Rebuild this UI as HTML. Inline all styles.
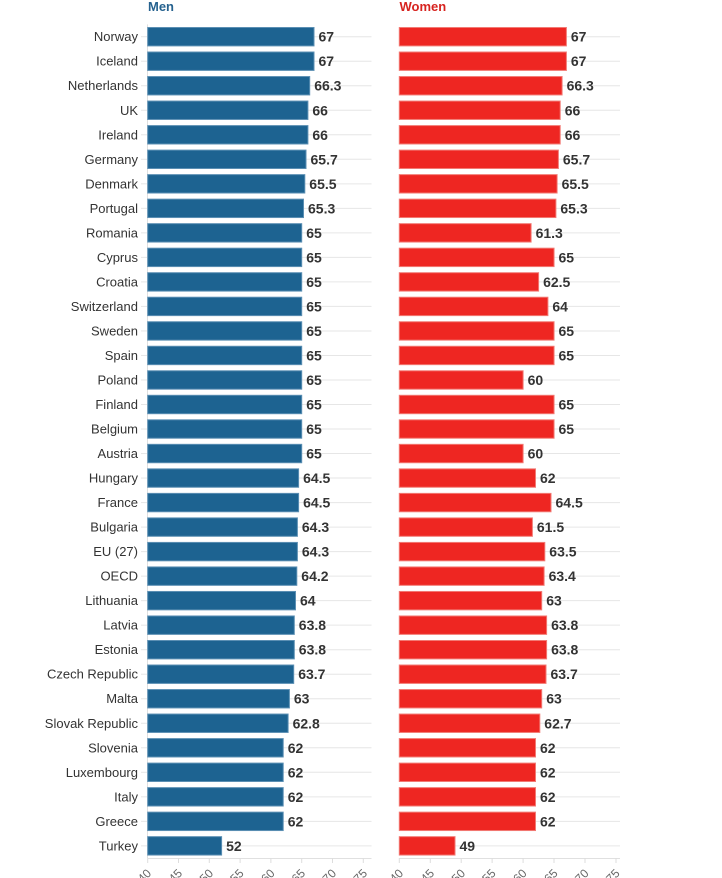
<!DOCTYPE html>
<html><head><meta charset="utf-8"><style>
html,body{margin:0;padding:0;background:#fff;}
svg{display:block;}
.lab{font-family:"Liberation Sans",sans-serif;font-size:13px;fill:#333;text-anchor:end;}
.val{font-family:"Liberation Sans",sans-serif;font-size:14px;font-weight:bold;fill:#333;}
.tk{font-family:"Liberation Sans",sans-serif;font-size:12px;fill:#666;text-anchor:end;}
.gm{stroke:#e6e6e6;stroke-width:1;}
.m{fill:#1d6391;stroke:#5b8fb3;stroke-width:1;}
.w{fill:#ee2622;stroke:#f27a74;stroke-width:1;}
</style></head><body>
<svg width="722" height="878" viewBox="0 0 722 878" xmlns="http://www.w3.org/2000/svg">
<text x="148" y="11" font-family="Liberation Sans, sans-serif" font-size="13" font-weight="bold" fill="#26628f">Men</text>
<text x="399.5" y="11" font-family="Liberation Sans, sans-serif" font-size="13" font-weight="bold" fill="#d7231f">Women</text>
<line x1="147.5" y1="24.4" x2="147.5" y2="858" stroke="#e0e0e0"/>
<line x1="147.7" y1="858.5" x2="371.5" y2="858.5" stroke="#e0e0e0"/>
<line x1="399.3" y1="858.5" x2="620" y2="858.5" stroke="#e0e0e0"/>
<g stroke="#ddd">
<line x1="147.7" y1="858" x2="147.7" y2="863"/><line x1="178.5" y1="858" x2="178.5" y2="863"/><line x1="209.3" y1="858" x2="209.3" y2="863"/><line x1="240.1" y1="858" x2="240.1" y2="863"/><line x1="270.9" y1="858" x2="270.9" y2="863"/><line x1="301.7" y1="858" x2="301.7" y2="863"/><line x1="332.5" y1="858" x2="332.5" y2="863"/><line x1="363.3" y1="858" x2="363.3" y2="863"/>
<line x1="399.3" y1="858" x2="399.3" y2="863"/><line x1="430.3" y1="858" x2="430.3" y2="863"/><line x1="461.2" y1="858" x2="461.2" y2="863"/><line x1="492.1" y1="858" x2="492.1" y2="863"/><line x1="523.1" y1="858" x2="523.1" y2="863"/><line x1="554" y1="858" x2="554" y2="863"/><line x1="585" y1="858" x2="585" y2="863"/><line x1="616" y1="858" x2="616" y2="863"/>
</g>
<text class="tk" transform="translate(152,874) rotate(-45)">40</text>
<text class="tk" transform="translate(183,874) rotate(-45)">45</text>
<text class="tk" transform="translate(214,874) rotate(-45)">50</text>
<text class="tk" transform="translate(244.5,874) rotate(-45)">55</text>
<text class="tk" transform="translate(275.5,874) rotate(-45)">60</text>
<text class="tk" transform="translate(306,874) rotate(-45)">65</text>
<text class="tk" transform="translate(337,874) rotate(-45)">70</text>
<text class="tk" transform="translate(368,874) rotate(-45)">75</text>
<text class="tk" transform="translate(404,874) rotate(-45)">40</text>
<text class="tk" transform="translate(435,874) rotate(-45)">45</text>
<text class="tk" transform="translate(466,874) rotate(-45)">50</text>
<text class="tk" transform="translate(496.5,874) rotate(-45)">55</text>
<text class="tk" transform="translate(527.5,874) rotate(-45)">60</text>
<text class="tk" transform="translate(558.5,874) rotate(-45)">65</text>
<text class="tk" transform="translate(589.5,874) rotate(-45)">70</text>
<text class="tk" transform="translate(620.5,874) rotate(-45)">75</text>

<g transform="translate(0,36.7)"><line class="gm" x1="148" x2="371.5" y1="0" y2="0"/><line class="gm" x1="399" x2="620" y1="0" y2="0"/><line class="gm" x1="141" x2="148" y1="0" y2="0"/><text class="lab" x="138" y="4.5">Norway</text><rect class="m" x="147.7" y="-9.2" width="166.3" height="18.4"/><text class="val" x="318.5" y="5">67</text><rect class="w" x="399.3" y="-9.2" width="167.1" height="18.4"/><text class="val" x="570.9" y="5">67</text></g>
<g transform="translate(0,61.22)"><line class="gm" x1="148" x2="371.5" y1="0" y2="0"/><line class="gm" x1="399" x2="620" y1="0" y2="0"/><line class="gm" x1="141" x2="148" y1="0" y2="0"/><text class="lab" x="138" y="4.5">Iceland</text><rect class="m" x="147.7" y="-9.2" width="166.3" height="18.4"/><text class="val" x="318.5" y="5">67</text><rect class="w" x="399.3" y="-9.2" width="167.1" height="18.4"/><text class="val" x="570.9" y="5">67</text></g>
<g transform="translate(0,85.74)"><line class="gm" x1="148" x2="371.5" y1="0" y2="0"/><line class="gm" x1="399" x2="620" y1="0" y2="0"/><line class="gm" x1="141" x2="148" y1="0" y2="0"/><text class="lab" x="138" y="4.5">Netherlands</text><rect class="m" x="147.7" y="-9.2" width="162" height="18.4"/><text class="val" x="314.2" y="5">66.3</text><rect class="w" x="399.3" y="-9.2" width="162.8" height="18.4"/><text class="val" x="566.6" y="5">66.3</text></g>
<g transform="translate(0,110.26)"><line class="gm" x1="148" x2="371.5" y1="0" y2="0"/><line class="gm" x1="399" x2="620" y1="0" y2="0"/><line class="gm" x1="141" x2="148" y1="0" y2="0"/><text class="lab" x="138" y="4.5">UK</text><rect class="m" x="147.7" y="-9.2" width="160.2" height="18.4"/><text class="val" x="312.4" y="5">66</text><rect class="w" x="399.3" y="-9.2" width="160.9" height="18.4"/><text class="val" x="564.7" y="5">66</text></g>
<g transform="translate(0,134.78)"><line class="gm" x1="148" x2="371.5" y1="0" y2="0"/><line class="gm" x1="399" x2="620" y1="0" y2="0"/><line class="gm" x1="141" x2="148" y1="0" y2="0"/><text class="lab" x="138" y="4.5">Ireland</text><rect class="m" x="147.7" y="-9.2" width="160.2" height="18.4"/><text class="val" x="312.4" y="5">66</text><rect class="w" x="399.3" y="-9.2" width="160.9" height="18.4"/><text class="val" x="564.7" y="5">66</text></g>
<g transform="translate(0,159.3)"><line class="gm" x1="148" x2="371.5" y1="0" y2="0"/><line class="gm" x1="399" x2="620" y1="0" y2="0"/><line class="gm" x1="141" x2="148" y1="0" y2="0"/><text class="lab" x="138" y="4.5">Germany</text><rect class="m" x="147.7" y="-9.2" width="158.3" height="18.4"/><text class="val" x="310.5" y="5">65.7</text><rect class="w" x="399.3" y="-9.2" width="159.1" height="18.4"/><text class="val" x="562.9" y="5">65.7</text></g>
<g transform="translate(0,183.82)"><line class="gm" x1="148" x2="371.5" y1="0" y2="0"/><line class="gm" x1="399" x2="620" y1="0" y2="0"/><line class="gm" x1="141" x2="148" y1="0" y2="0"/><text class="lab" x="138" y="4.5">Denmark</text><rect class="m" x="147.7" y="-9.2" width="157.1" height="18.4"/><text class="val" x="309.3" y="5">65.5</text><rect class="w" x="399.3" y="-9.2" width="157.8" height="18.4"/><text class="val" x="561.6" y="5">65.5</text></g>
<g transform="translate(0,208.34)"><line class="gm" x1="148" x2="371.5" y1="0" y2="0"/><line class="gm" x1="399" x2="620" y1="0" y2="0"/><line class="gm" x1="141" x2="148" y1="0" y2="0"/><text class="lab" x="138" y="4.5">Portugal</text><rect class="m" x="147.7" y="-9.2" width="155.8" height="18.4"/><text class="val" x="308" y="5">65.3</text><rect class="w" x="399.3" y="-9.2" width="156.6" height="18.4"/><text class="val" x="560.4" y="5">65.3</text></g>
<g transform="translate(0,232.86)"><line class="gm" x1="148" x2="371.5" y1="0" y2="0"/><line class="gm" x1="399" x2="620" y1="0" y2="0"/><line class="gm" x1="141" x2="148" y1="0" y2="0"/><text class="lab" x="138" y="4.5">Romania</text><rect class="m" x="147.7" y="-9.2" width="154" height="18.4"/><text class="val" x="306.2" y="5">65</text><rect class="w" x="399.3" y="-9.2" width="131.8" height="18.4"/><text class="val" x="535.6" y="5">61.3</text></g>
<g transform="translate(0,257.38)"><line class="gm" x1="148" x2="371.5" y1="0" y2="0"/><line class="gm" x1="399" x2="620" y1="0" y2="0"/><line class="gm" x1="141" x2="148" y1="0" y2="0"/><text class="lab" x="138" y="4.5">Cyprus</text><rect class="m" x="147.7" y="-9.2" width="154" height="18.4"/><text class="val" x="306.2" y="5">65</text><rect class="w" x="399.3" y="-9.2" width="154.75" height="18.4"/><text class="val" x="558.5" y="5">65</text></g>
<g transform="translate(0,281.9)"><line class="gm" x1="148" x2="371.5" y1="0" y2="0"/><line class="gm" x1="399" x2="620" y1="0" y2="0"/><line class="gm" x1="141" x2="148" y1="0" y2="0"/><text class="lab" x="138" y="4.5">Croatia</text><rect class="m" x="147.7" y="-9.2" width="154" height="18.4"/><text class="val" x="306.2" y="5">65</text><rect class="w" x="399.3" y="-9.2" width="139.3" height="18.4"/><text class="val" x="543.1" y="5">62.5</text></g>
<g transform="translate(0,306.42)"><line class="gm" x1="148" x2="371.5" y1="0" y2="0"/><line class="gm" x1="399" x2="620" y1="0" y2="0"/><line class="gm" x1="141" x2="148" y1="0" y2="0"/><text class="lab" x="138" y="4.5">Switzerland</text><rect class="m" x="147.7" y="-9.2" width="154" height="18.4"/><text class="val" x="306.2" y="5">65</text><rect class="w" x="399.3" y="-9.2" width="148.6" height="18.4"/><text class="val" x="552.4" y="5">64</text></g>
<g transform="translate(0,330.94)"><line class="gm" x1="148" x2="371.5" y1="0" y2="0"/><line class="gm" x1="399" x2="620" y1="0" y2="0"/><line class="gm" x1="141" x2="148" y1="0" y2="0"/><text class="lab" x="138" y="4.5">Sweden</text><rect class="m" x="147.7" y="-9.2" width="154" height="18.4"/><text class="val" x="306.2" y="5">65</text><rect class="w" x="399.3" y="-9.2" width="154.75" height="18.4"/><text class="val" x="558.5" y="5">65</text></g>
<g transform="translate(0,355.46)"><line class="gm" x1="148" x2="371.5" y1="0" y2="0"/><line class="gm" x1="399" x2="620" y1="0" y2="0"/><line class="gm" x1="141" x2="148" y1="0" y2="0"/><text class="lab" x="138" y="4.5">Spain</text><rect class="m" x="147.7" y="-9.2" width="154" height="18.4"/><text class="val" x="306.2" y="5">65</text><rect class="w" x="399.3" y="-9.2" width="154.75" height="18.4"/><text class="val" x="558.5" y="5">65</text></g>
<g transform="translate(0,379.98)"><line class="gm" x1="148" x2="371.5" y1="0" y2="0"/><line class="gm" x1="399" x2="620" y1="0" y2="0"/><line class="gm" x1="141" x2="148" y1="0" y2="0"/><text class="lab" x="138" y="4.5">Poland</text><rect class="m" x="147.7" y="-9.2" width="154" height="18.4"/><text class="val" x="306.2" y="5">65</text><rect class="w" x="399.3" y="-9.2" width="123.8" height="18.4"/><text class="val" x="527.6" y="5">60</text></g>
<g transform="translate(0,404.5)"><line class="gm" x1="148" x2="371.5" y1="0" y2="0"/><line class="gm" x1="399" x2="620" y1="0" y2="0"/><line class="gm" x1="141" x2="148" y1="0" y2="0"/><text class="lab" x="138" y="4.5">Finland</text><rect class="m" x="147.7" y="-9.2" width="154" height="18.4"/><text class="val" x="306.2" y="5">65</text><rect class="w" x="399.3" y="-9.2" width="154.75" height="18.4"/><text class="val" x="558.5" y="5">65</text></g>
<g transform="translate(0,429.02)"><line class="gm" x1="148" x2="371.5" y1="0" y2="0"/><line class="gm" x1="399" x2="620" y1="0" y2="0"/><line class="gm" x1="141" x2="148" y1="0" y2="0"/><text class="lab" x="138" y="4.5">Belgium</text><rect class="m" x="147.7" y="-9.2" width="154" height="18.4"/><text class="val" x="306.2" y="5">65</text><rect class="w" x="399.3" y="-9.2" width="154.75" height="18.4"/><text class="val" x="558.5" y="5">65</text></g>
<g transform="translate(0,453.54)"><line class="gm" x1="148" x2="371.5" y1="0" y2="0"/><line class="gm" x1="399" x2="620" y1="0" y2="0"/><line class="gm" x1="141" x2="148" y1="0" y2="0"/><text class="lab" x="138" y="4.5">Austria</text><rect class="m" x="147.7" y="-9.2" width="154" height="18.4"/><text class="val" x="306.2" y="5">65</text><rect class="w" x="399.3" y="-9.2" width="123.8" height="18.4"/><text class="val" x="527.6" y="5">60</text></g>
<g transform="translate(0,478.06)"><line class="gm" x1="148" x2="371.5" y1="0" y2="0"/><line class="gm" x1="399" x2="620" y1="0" y2="0"/><line class="gm" x1="141" x2="148" y1="0" y2="0"/><text class="lab" x="138" y="4.5">Hungary</text><rect class="m" x="147.7" y="-9.2" width="150.9" height="18.4"/><text class="val" x="303.1" y="5">64.5</text><rect class="w" x="399.3" y="-9.2" width="136.2" height="18.4"/><text class="val" x="540" y="5">62</text></g>
<g transform="translate(0,502.58)"><line class="gm" x1="148" x2="371.5" y1="0" y2="0"/><line class="gm" x1="399" x2="620" y1="0" y2="0"/><line class="gm" x1="141" x2="148" y1="0" y2="0"/><text class="lab" x="138" y="4.5">France</text><rect class="m" x="147.7" y="-9.2" width="150.9" height="18.4"/><text class="val" x="303.1" y="5">64.5</text><rect class="w" x="399.3" y="-9.2" width="151.7" height="18.4"/><text class="val" x="555.5" y="5">64.5</text></g>
<g transform="translate(0,527.1)"><line class="gm" x1="148" x2="371.5" y1="0" y2="0"/><line class="gm" x1="399" x2="620" y1="0" y2="0"/><line class="gm" x1="141" x2="148" y1="0" y2="0"/><text class="lab" x="138" y="4.5">Bulgaria</text><rect class="m" x="147.7" y="-9.2" width="149.7" height="18.4"/><text class="val" x="301.9" y="5">64.3</text><rect class="w" x="399.3" y="-9.2" width="133.1" height="18.4"/><text class="val" x="536.9" y="5">61.5</text></g>
<g transform="translate(0,551.62)"><line class="gm" x1="148" x2="371.5" y1="0" y2="0"/><line class="gm" x1="399" x2="620" y1="0" y2="0"/><line class="gm" x1="141" x2="148" y1="0" y2="0"/><text class="lab" x="138" y="4.5">EU (27)</text><rect class="m" x="147.7" y="-9.2" width="149.7" height="18.4"/><text class="val" x="301.9" y="5">64.3</text><rect class="w" x="399.3" y="-9.2" width="145.5" height="18.4"/><text class="val" x="549.3" y="5">63.5</text></g>
<g transform="translate(0,576.14)"><line class="gm" x1="148" x2="371.5" y1="0" y2="0"/><line class="gm" x1="399" x2="620" y1="0" y2="0"/><line class="gm" x1="141" x2="148" y1="0" y2="0"/><text class="lab" x="138" y="4.5">OECD</text><rect class="m" x="147.7" y="-9.2" width="149.1" height="18.4"/><text class="val" x="301.3" y="5">64.2</text><rect class="w" x="399.3" y="-9.2" width="144.8" height="18.4"/><text class="val" x="548.6" y="5">63.4</text></g>
<g transform="translate(0,600.66)"><line class="gm" x1="148" x2="371.5" y1="0" y2="0"/><line class="gm" x1="399" x2="620" y1="0" y2="0"/><line class="gm" x1="141" x2="148" y1="0" y2="0"/><text class="lab" x="138" y="4.5">Lithuania</text><rect class="m" x="147.7" y="-9.2" width="147.8" height="18.4"/><text class="val" x="300" y="5">64</text><rect class="w" x="399.3" y="-9.2" width="142.4" height="18.4"/><text class="val" x="546.2" y="5">63</text></g>
<g transform="translate(0,625.18)"><line class="gm" x1="148" x2="371.5" y1="0" y2="0"/><line class="gm" x1="399" x2="620" y1="0" y2="0"/><line class="gm" x1="141" x2="148" y1="0" y2="0"/><text class="lab" x="138" y="4.5">Latvia</text><rect class="m" x="147.7" y="-9.2" width="146.6" height="18.4"/><text class="val" x="298.8" y="5">63.8</text><rect class="w" x="399.3" y="-9.2" width="147.3" height="18.4"/><text class="val" x="551.1" y="5">63.8</text></g>
<g transform="translate(0,649.7)"><line class="gm" x1="148" x2="371.5" y1="0" y2="0"/><line class="gm" x1="399" x2="620" y1="0" y2="0"/><line class="gm" x1="141" x2="148" y1="0" y2="0"/><text class="lab" x="138" y="4.5">Estonia</text><rect class="m" x="147.7" y="-9.2" width="146.6" height="18.4"/><text class="val" x="298.8" y="5">63.8</text><rect class="w" x="399.3" y="-9.2" width="147.3" height="18.4"/><text class="val" x="551.1" y="5">63.8</text></g>
<g transform="translate(0,674.22)"><line class="gm" x1="148" x2="371.5" y1="0" y2="0"/><line class="gm" x1="399" x2="620" y1="0" y2="0"/><line class="gm" x1="141" x2="148" y1="0" y2="0"/><text class="lab" x="138" y="4.5">Czech Republic</text><rect class="m" x="147.7" y="-9.2" width="146" height="18.4"/><text class="val" x="298.2" y="5">63.7</text><rect class="w" x="399.3" y="-9.2" width="146.7" height="18.4"/><text class="val" x="550.5" y="5">63.7</text></g>
<g transform="translate(0,698.74)"><line class="gm" x1="148" x2="371.5" y1="0" y2="0"/><line class="gm" x1="399" x2="620" y1="0" y2="0"/><line class="gm" x1="141" x2="148" y1="0" y2="0"/><text class="lab" x="138" y="4.5">Malta</text><rect class="m" x="147.7" y="-9.2" width="141.7" height="18.4"/><text class="val" x="293.9" y="5">63</text><rect class="w" x="399.3" y="-9.2" width="142.4" height="18.4"/><text class="val" x="546.2" y="5">63</text></g>
<g transform="translate(0,723.26)"><line class="gm" x1="148" x2="371.5" y1="0" y2="0"/><line class="gm" x1="399" x2="620" y1="0" y2="0"/><line class="gm" x1="141" x2="148" y1="0" y2="0"/><text class="lab" x="138" y="4.5">Slovak Republic</text><rect class="m" x="147.7" y="-9.2" width="140.4" height="18.4"/><text class="val" x="292.6" y="5">62.8</text><rect class="w" x="399.3" y="-9.2" width="140.5" height="18.4"/><text class="val" x="544.3" y="5">62.7</text></g>
<g transform="translate(0,747.78)"><line class="gm" x1="148" x2="371.5" y1="0" y2="0"/><line class="gm" x1="399" x2="620" y1="0" y2="0"/><line class="gm" x1="141" x2="148" y1="0" y2="0"/><text class="lab" x="138" y="4.5">Slovenia</text><rect class="m" x="147.7" y="-9.2" width="135.5" height="18.4"/><text class="val" x="287.7" y="5">62</text><rect class="w" x="399.3" y="-9.2" width="136.2" height="18.4"/><text class="val" x="540" y="5">62</text></g>
<g transform="translate(0,772.3)"><line class="gm" x1="148" x2="371.5" y1="0" y2="0"/><line class="gm" x1="399" x2="620" y1="0" y2="0"/><line class="gm" x1="141" x2="148" y1="0" y2="0"/><text class="lab" x="138" y="4.5">Luxembourg</text><rect class="m" x="147.7" y="-9.2" width="135.5" height="18.4"/><text class="val" x="287.7" y="5">62</text><rect class="w" x="399.3" y="-9.2" width="136.2" height="18.4"/><text class="val" x="540" y="5">62</text></g>
<g transform="translate(0,796.82)"><line class="gm" x1="148" x2="371.5" y1="0" y2="0"/><line class="gm" x1="399" x2="620" y1="0" y2="0"/><line class="gm" x1="141" x2="148" y1="0" y2="0"/><text class="lab" x="138" y="4.5">Italy</text><rect class="m" x="147.7" y="-9.2" width="135.5" height="18.4"/><text class="val" x="287.7" y="5">62</text><rect class="w" x="399.3" y="-9.2" width="136.2" height="18.4"/><text class="val" x="540" y="5">62</text></g>
<g transform="translate(0,821.34)"><line class="gm" x1="148" x2="371.5" y1="0" y2="0"/><line class="gm" x1="399" x2="620" y1="0" y2="0"/><line class="gm" x1="141" x2="148" y1="0" y2="0"/><text class="lab" x="138" y="4.5">Greece</text><rect class="m" x="147.7" y="-9.2" width="135.5" height="18.4"/><text class="val" x="287.7" y="5">62</text><rect class="w" x="399.3" y="-9.2" width="136.2" height="18.4"/><text class="val" x="540" y="5">62</text></g>
<g transform="translate(0,845.86)"><line class="gm" x1="148" x2="371.5" y1="0" y2="0"/><line class="gm" x1="399" x2="620" y1="0" y2="0"/><line class="gm" x1="141" x2="148" y1="0" y2="0"/><text class="lab" x="138" y="4.5">Turkey</text><rect class="m" x="147.7" y="-9.2" width="73.9" height="18.4"/><text class="val" x="226.1" y="5">52</text><rect class="w" x="399.3" y="-9.2" width="55.7" height="18.4"/><text class="val" x="459.5" y="5">49</text></g>
</svg>
</body></html>
